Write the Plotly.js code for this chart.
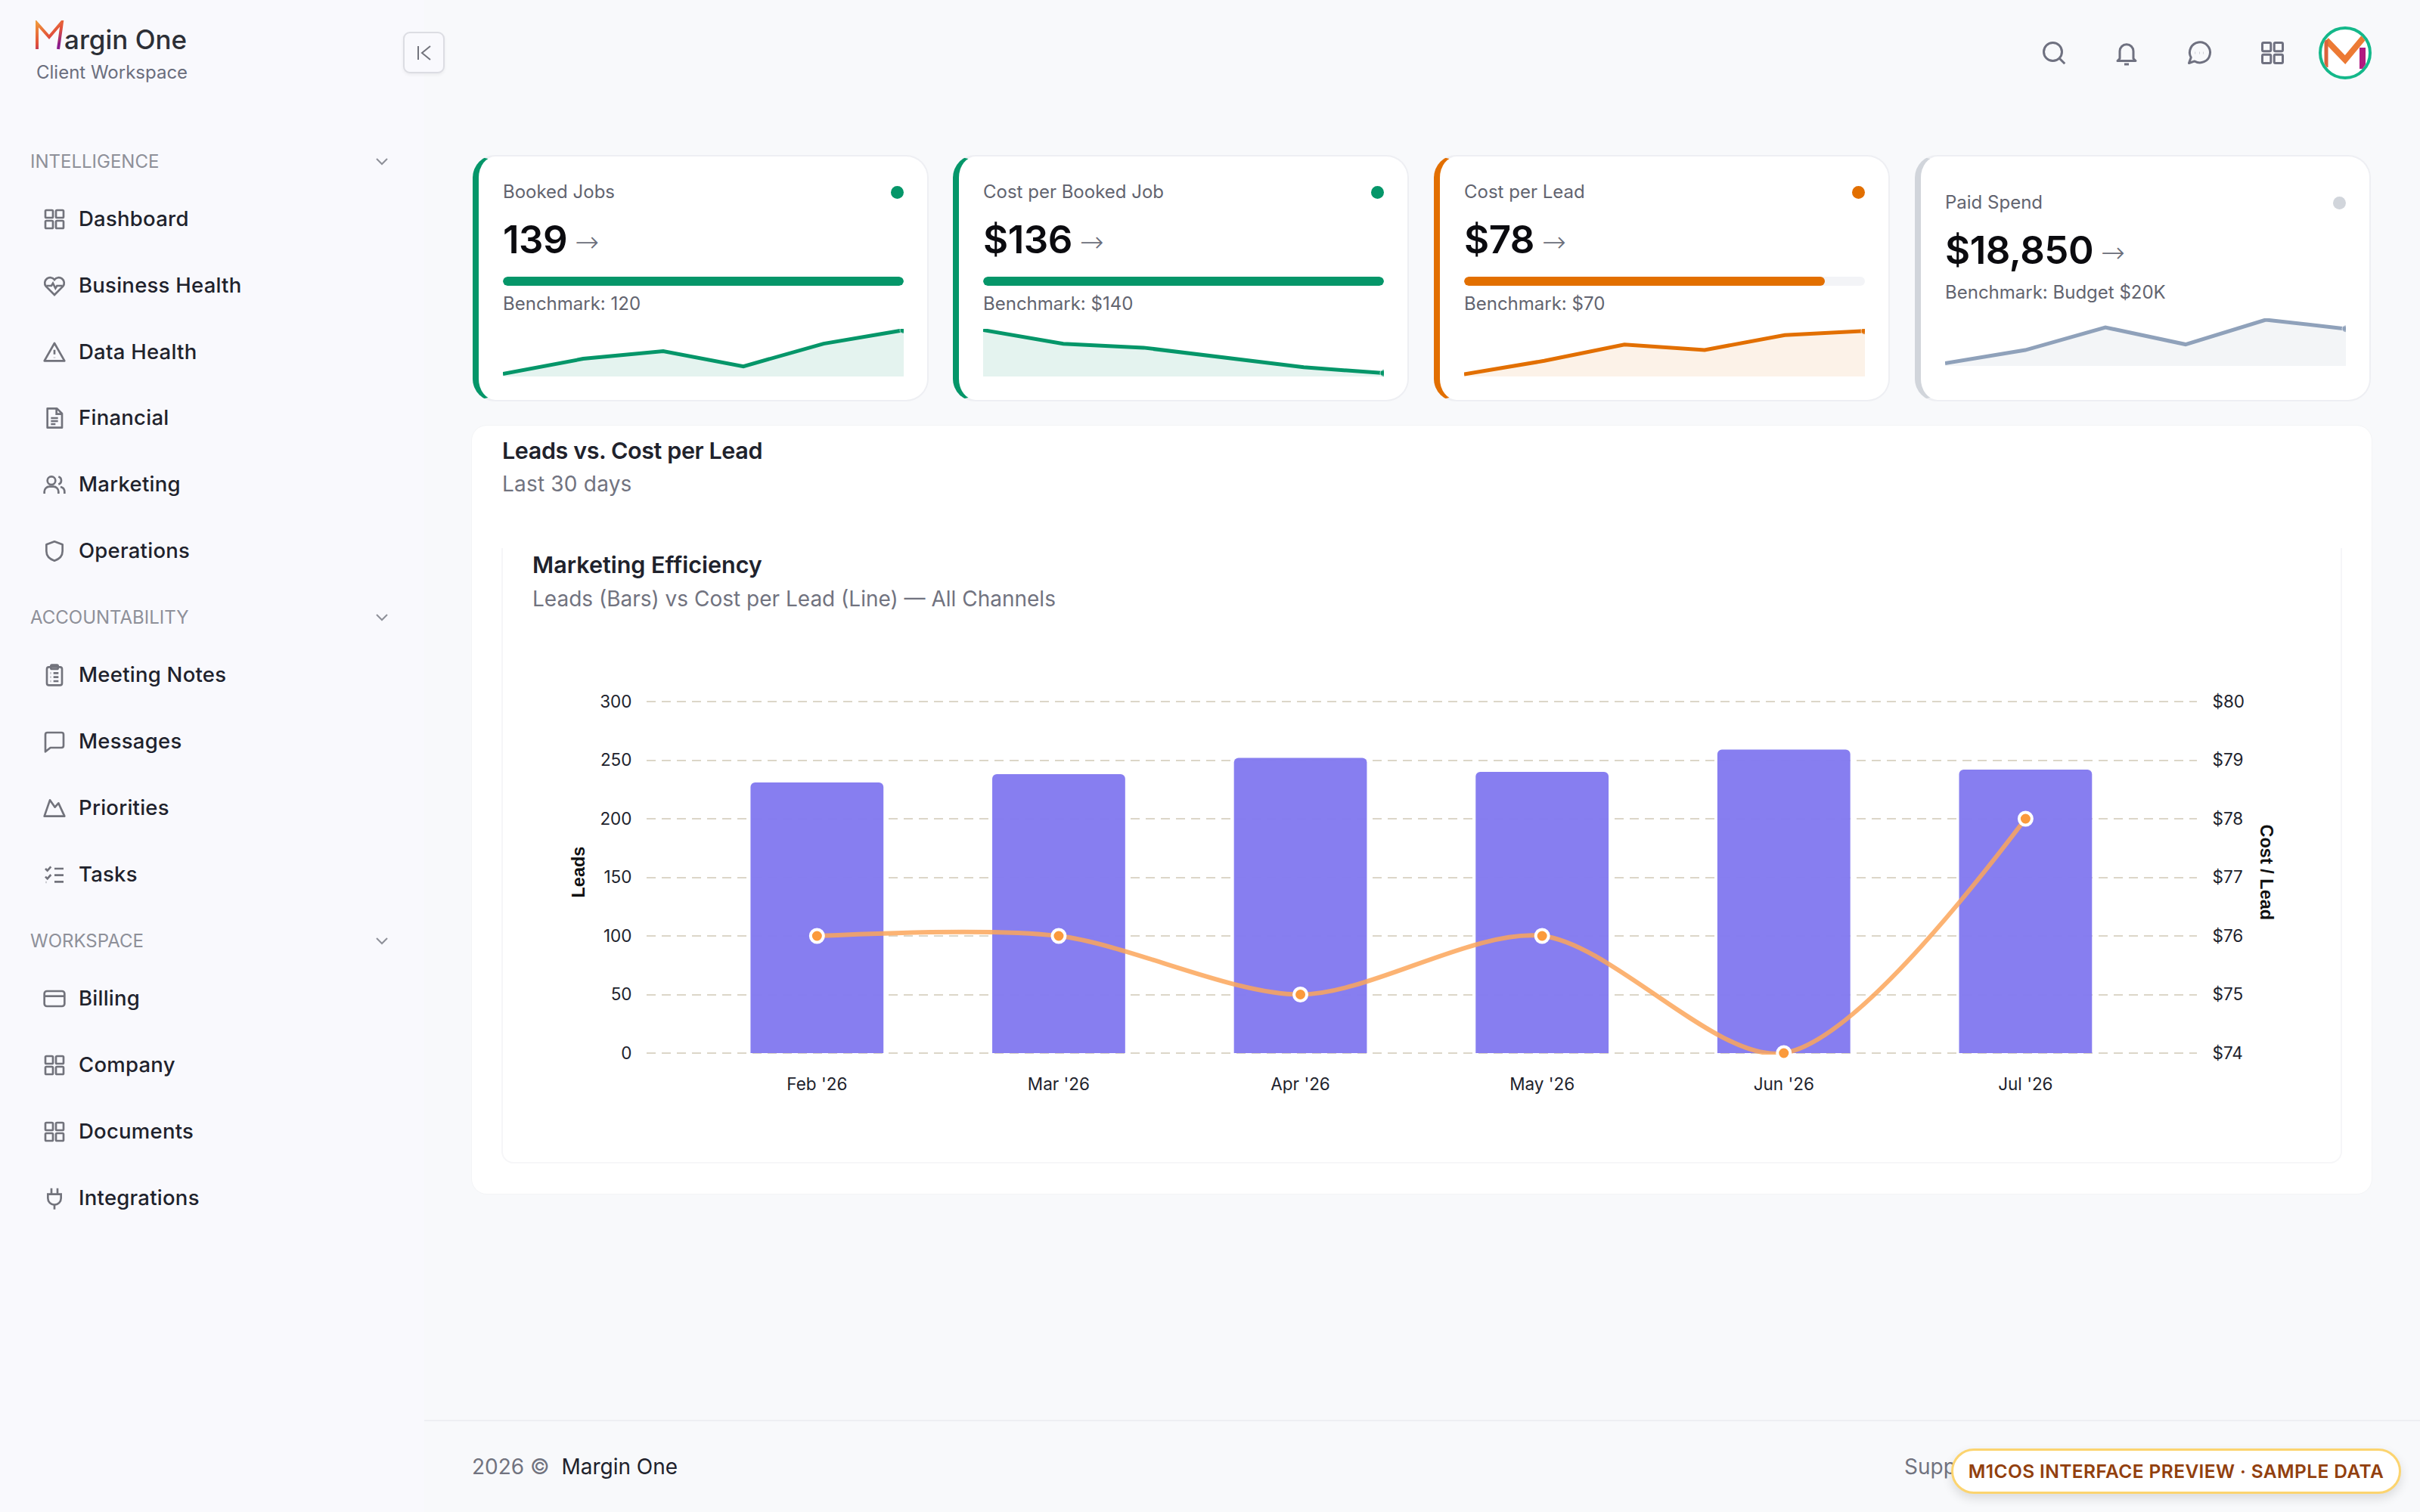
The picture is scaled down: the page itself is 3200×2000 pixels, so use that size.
<!DOCTYPE html>
<html><head><meta charset="utf-8">
<script src="https://cdn.plot.ly/plotly-3.0.1.min.js"></script>
<style>
*{box-sizing:border-box}
html,body{margin:0;padding:0;width:3200px;height:2000px;overflow:hidden;background:#f8f9fb;font-family:Inter,sans-serif;color:#20222c}
.abs{position:absolute}
#side{position:absolute;left:0;top:0;width:561px;height:2000px;background:#f9f9fd}
#nav{position:absolute;left:0;top:182px;width:561px}
.sec{margin-bottom:12.6px}
.sh{height:64px;position:relative;font-size:24px;color:#8e9099;line-height:64px;padding-left:40px}
.sh svg{position:absolute;left:494px;top:20px}
.it{height:87.8px;position:relative;font-size:27.5px;font-weight:500;line-height:87.8px;padding-left:104px;color:#20222c;letter-spacing:.25px}
.it svg{position:absolute;left:56px;top:28px}
.card{position:absolute;top:205px;height:326px;background:#fff;border-radius:30px;border:2px solid #eeeff3;border-left:8px solid;}
.lab{position:absolute;font-size:24px;color:#62646f;line-height:30px}
.dot{position:absolute;width:17px;height:17px;border-radius:50%}
.val{position:absolute;font-size:51px;font-weight:600;color:#0b0b0f;line-height:60px;letter-spacing:-.5px}
.arr{font-size:38px;font-weight:300;color:#6b6e7a;margin-left:10px;letter-spacing:0;font-family:"DejaVu Sans";position:relative;top:-2px}
.trk{position:absolute;height:12px;border-radius:6px;background:#f3f4f7;overflow:hidden}
.fil{height:12px;border-radius:6px}
.spark{position:absolute;height:63px}
</style></head><body>
<div id="side"></div>
<svg class="abs" style="left:46px;top:27px" width="40" height="40" viewBox="0 0 40 40"><defs><linearGradient id="lg" x1="0" y1="0" x2="0.6" y2="1"><stop offset="0" stop-color="#f0983a"/><stop offset=".6" stop-color="#e2503a"/><stop offset="1" stop-color="#8a1a8c"/></linearGradient></defs><path d="M3 38V4L19 22L36 2L31 38" fill="none" stroke="url(#lg)" stroke-width="4"/></svg>
<div class="abs" style="left:85px;top:26px;font-size:35px;font-weight:500;color:#2c2f36;line-height:52px">argin One</div>
<div class="abs" style="left:48px;top:80px;font-size:24px;color:#6b6e7d;line-height:32px">Client Workspace</div>
<div class="abs" style="left:533px;top:42px;width:55px;height:55px;border:2px solid #dcdde3;border-radius:9px;box-shadow:0 2px 4px rgba(0,0,0,.06);background:#f9f9fd"><svg class="abs" style="left:15px;top:15px" width="22" height="22" viewBox="0 0 22 22" fill="none" stroke="#72737c" stroke-width="2"><path d="M3 2V20M19 2L8 11L19 20"/></svg></div>
<div id="nav"></div>

<div id="icons"></div>
<div class="abs" style="left:3066px;top:35px;width:70px;height:70px;border:4px solid #14b88a;border-radius:50%;background:#fff;overflow:hidden"><svg width="62" height="62" viewBox="0 0 62 62"><path d="M6 14L31 40L56 10" fill="none" stroke="#ec7a34" stroke-width="8"/><path d="M6 14V50" stroke="#d9643c" stroke-width="5"/><path d="M54 24V52" stroke="#b01a80" stroke-width="8"/></svg></div>

<div id="cards"></div>

<div class="abs" style="left:624px;top:563px;width:2512px;height:1016px;background:#fff;border-radius:20px;box-shadow:0 0 0 1px #f3f4f6"></div>
<div class="abs" style="left:664px;top:576px;font-size:30.5px;font-weight:600;line-height:40px;color:#20222c;letter-spacing:-.4px">Leads vs. Cost per Lead</div>
<div class="abs" style="left:664px;top:622px;font-size:28px;color:#71737f;line-height:36px;letter-spacing:.2px">Last 30 days</div>
<div class="abs" style="left:663px;top:725px;width:2434px;height:814px;border:2px solid #f6f6f8;border-top:0;border-radius:0 0 16px 16px"></div>
<div class="abs" style="left:704px;top:727px;font-size:30.5px;font-weight:600;line-height:40px;color:#20222c">Marketing Efficiency</div>
<div class="abs" style="left:704px;top:774px;font-size:28px;color:#71737f;line-height:36px">Leads (Bars) vs Cost per Lead (Line) — All Channels</div>
<div id="main" class="abs" style="left:700px;top:880px;width:2330px;height:620px"></div>

<div class="abs" style="left:561px;top:1878px;width:2639px;height:2px;background:#eeeff3"></div>
<div class="abs" style="left:624px;top:1922px;font-size:28px;line-height:36px;color:#71737f">2026 ©&nbsp; <span style="color:#20222c">Margin One</span></div>
<div class="abs" style="left:2518px;top:1922px;font-size:28px;line-height:36px;color:#71737f">Support</div>
<div class="abs" style="left:2580px;top:1916px;width:595px;height:60px;background:#fff;border:3px solid #fcd46f;border-radius:30px;box-shadow:0 6px 14px rgba(0,0,0,.12);font-size:24.5px;font-weight:600;color:#92400e;line-height:54px;text-align:center;letter-spacing:.4px">M1COS INTERFACE PREVIEW · SAMPLE DATA</div>

<script>
// ---------- chart data ----------
const months = ["Feb '26","Mar '26","Apr '26","May '26","Jun '26","Jul '26"];
const leads = [231,238,252,240,259,242];
const costPerLead = [76,76,75,76,74,78];
const leadTicks = [0,50,100,150,200,250,300];
const costTicks = [74,75,76,77,78,79,80];
const costTickLabels = ["$74","$75","$76","$77","$78","$79","$80"];

const sparkBooked = [110,120,125,115,130,139];
const sparkCostJob = [158,151,149,144,139,136];
const sparkCostLead = [62,67,73,71,76.5,78];
const sparkSpend = [15200,16600,19000,17200,19800,18850];

const cardLabels = ["Booked Jobs","Cost per Booked Job","Cost per Lead","Paid Spend"];
const cardValues = ["139","$136","$78","$18,850"];
const cardBenchmarks = ["Benchmark: 120","Benchmark: $140","Benchmark: $70","Benchmark: Budget $20K"];
const cardProgress = [100,100,90,null];

const navIntelligence = ["Dashboard","Business Health","Data Health","Financial","Marketing","Operations"];
const navAccountability = ["Meeting Notes","Messages","Priorities","Tasks"];
const navWorkspace = ["Billing","Company","Documents","Integrations"];

// ---------- page chrome ----------
const P = {
 grid:'<rect x="3" y="3" width="7.5" height="7.5" rx="1"/><rect x="13.5" y="3" width="7.5" height="7.5" rx="1"/><rect x="3" y="13.5" width="7.5" height="7.5" rx="1"/><rect x="13.5" y="13.5" width="7.5" height="7.5" rx="1"/>',
 heart:'<path d="M12 21L3.5 12.5A5.3 5.3 0 0 1 12 6A5.3 5.3 0 0 1 20.5 12.5Z"/><path d="M4 12H9L10.5 9.5L13 14.5L14.5 12H20"/>',
 warn:'<path d="M12 3L22 20.5H2Z" stroke-linejoin="round"/><path d="M12 9.5V14M12 17V17.4"/>',
 file:'<path d="M5 2.5H14.5L19.5 7.5V21.5H5Z" stroke-linejoin="round"/><path d="M14 2.5V8H19.5M8.5 12H15.5M8.5 15H15.5M8.5 18H13"/>',
 users:'<circle cx="9" cy="8" r="4"/><path d="M2 21V19A5 5 0 0 1 7 14H11A5 5 0 0 1 16 19V21M16 4.2A4 4 0 0 1 16 11.8M22 21V19A5 5 0 0 0 18 14.2"/>',
 shield:'<path d="M12 2.5L20 5.5V12C20 17 16.5 20 12 21.5C7.5 20 4 17 4 12V5.5Z" stroke-linejoin="round"/>',
 clip:'<rect x="4.5" y="4" width="15" height="18" rx="2"/><rect x="8.5" y="2" width="7" height="4" rx="1"/><path d="M8 11H8.5M11 11H16M8 15H8.5M11 15H16M8 19H8.5M11 19H16" transform="translate(0 -1)"/>',
 msg:'<path d="M3 5A2 2 0 0 1 5 3H19A2 2 0 0 1 21 5V16A2 2 0 0 1 19 18H8L3 22Z" stroke-linejoin="round"/>',
 mount:'<path d="M2 20L7.5 4L12.5 11L16 7L22 20Z" stroke-linejoin="round"/>',
 tasks:'<path d="M3 6L5 8L8.5 4M3 14L5 16L8.5 12M12 6H21M12 12.5H21M3.5 19.5H4M12 19H21"/>',
 card:'<rect x="2" y="4.5" width="20" height="15" rx="2.5"/><path d="M2 9.5H22"/>',
 plug:'<path d="M9 2V8M15 2V8M5.5 8H18.5V12A6.5 6.5 0 0 1 5.5 12ZM12 18.5V23"/>',
 search:'<circle cx="11" cy="11" r="8"/><path d="M17 17L21.5 21.5"/>',
 bell:'<path d="M6 17V10.5A6 6 0 0 1 18 10.5V17L20 19H4ZM10 22H14" stroke-linejoin="round"/>',
 chat:'<path d="M3 21L4.8 16A9 9 0 1 1 8 19.3Z" stroke-linejoin="round"/><path d="M8.5 12H8.7M12 12H12.2M15.5 12H15.7"/>'
};
const icon=(n,s,c)=>`<svg width="${s}" height="${s}" viewBox="0 0 24 24" fill="none" stroke="${c}" stroke-width="2">${P[n]}</svg>`;
const sections=[["INTELLIGENCE",navIntelligence,["grid","heart","warn","file","users","shield"]],
 ["ACCOUNTABILITY",navAccountability,["clip","msg","mount","tasks"]],
 ["WORKSPACE",navWorkspace,["card","grid","grid","plug"]]];
document.getElementById('nav').innerHTML=sections.map(([h,items,ic])=>
 `<div class="sec"><div class="sh">${h}<svg width="22" height="22" viewBox="0 0 22 22" fill="none" stroke="#8e9099" stroke-width="2"><path d="M4 8L11 15L18 8"/></svg></div>`+
 items.map((t,i)=>`<div class="it">${icon(ic[i],32,'#72737c')}${t}</div>`).join('')+`</div>`).join('');
document.getElementById('icons').innerHTML=[["search",2698],["bell",2794],["chat",2890],["grid",2987]].map(([n,x])=>
 `<div class="abs" style="left:${x}px;top:52px">${icon(n,36,'#6f7180')}</div>`).join('');

const cardX=[625,1260,1896,2532], cardW=[603,603,603,603];
const cardCol=["#059669","#059669","#e26f00","#d1d5db"];
const lineCol=["#059669","#059669","#e26f00","#8fa1ba"];
const fillCol=["rgba(5,150,105,.11)","rgba(5,150,105,.11)","rgba(226,111,0,.09)","rgba(143,161,186,.11)"];
const sparks=[sparkBooked,sparkCostJob,sparkCostLead,sparkSpend];
const sparkRange=[[108.3,139.8],[134.3,158.6],[61.2,78.8],[14930,19960]];
document.getElementById('cards').innerHTML=cardLabels.map((l,i)=>{
 const x=cardX[i], ix=x+40, w=530, dy=i==3?14:0;
 return `<div class="card" style="left:${x}px;width:${cardW[i]}px;border-left-color:${cardCol[i]}"></div>
 <div class="lab" style="left:${ix}px;top:${239+dy}px">${l}</div>
 <div class="dot" style="left:${ix+w-17}px;top:${246+dy}px;background:${cardCol[i]}"></div>
 <div class="val" style="left:${ix}px;top:${287+dy}px">${cardValues[i]}<span class="arr">→</span></div>
 ${cardProgress[i]===null?'':`<div class="trk" style="left:${ix}px;top:366px;width:${w}px"><div class="fil" style="width:${cardProgress[i]}%;background:${cardCol[i]}"></div></div>`}
 <div class="lab" style="left:${ix}px;top:${i==3?372:387}px">${cardBenchmarks[i]}</div>
 <div class="spark" id="sp${i}" style="left:${ix}px;top:${i==3?421:435}px;width:${w}px"></div>`;
}).join('');

sparks.forEach((v,i)=>{
 Plotly.newPlot('sp'+i,[{x:[0,1,2,3,4,5],y:v,type:'scatter',mode:'lines+markers',fill:'tozeroy',fillcolor:fillCol[i],
   line:{color:lineCol[i],width:5},marker:{color:lineCol[i],size:[0,0,0,0,0,10]},cliponaxis:true}],
  {width:530,height:63,margin:{l:0,r:0,t:0,b:0},paper_bgcolor:'rgba(0,0,0,0)',plot_bgcolor:'rgba(0,0,0,0)',showlegend:false,
   xaxis:{visible:false,range:[0,5]},yaxis:{visible:false,range:sparkRange[i]}},{staticPlot:true});
});

// ---------- main chart ----------
const tick={family:'Inter, sans-serif',size:22.5,color:'#20222c'};
const axTitle={family:'"Liberation Sans", sans-serif',size:23.5,color:'#111',weight:700};
Plotly.newPlot('main',[
 {type:'bar',x:[0,1,2,3,4,5],y:leads,width:0.55,marker:{color:'#837af0',opacity:.97,cornerradius:6,line:{width:0}},name:'Leads'},
 {type:'scatter',mode:'lines+markers',x:[0,1,2,3,4,5],y:costPerLead,yaxis:'y2',name:'Cost / Lead',cliponaxis:false,
  line:{color:'rgba(251,166,90,.85)',width:6,shape:'spline',smoothing:0.85},
  marker:{color:'#fb9a3c',size:17,line:{color:'#fff',width:4}}}
],{
 width:2330,height:620,margin:{l:155,r:125,t:46,b:105},showlegend:false,
 paper_bgcolor:'rgba(0,0,0,0)',plot_bgcolor:'rgba(0,0,0,0)',font:{family:'Inter, sans-serif'},
 xaxis:{range:[-0.705,5.709],tickmode:'array',tickvals:[0,1,2,3,4,5],ticktext:months,tickfont:tick,showgrid:false,zeroline:false,showline:false,
   ticks:'outside',ticklen:19,tickcolor:'rgba(0,0,0,0)'},
 yaxis:{range:[-1.29,301.29],tickmode:'array',tickvals:leadTicks,tickfont:tick,showline:false,zeroline:false,gridcolor:'#dcd6c8',gridwidth:2,griddash:'12px,8px',
   ticks:'outside',ticklen:14,tickcolor:'rgba(0,0,0,0)'},
 yaxis2:{range:[73.974,80.026],overlaying:'y',side:'right',tickmode:'array',tickvals:costTicks,ticktext:costTickLabels,tickfont:tick,showgrid:false,zeroline:false,showline:false,
   ticks:'outside',ticklen:15,tickcolor:'rgba(0,0,0,0)'},
 annotations:[
  {text:'Leads',xref:'paper',yref:'paper',x:0,y:0.5,xanchor:'center',yanchor:'middle',xshift:-91,yshift:7,showarrow:false,textangle:-90,font:axTitle},
  {text:'Cost / Lead',xref:'paper',yref:'paper',x:1,y:0.5,xanchor:'center',yanchor:'middle',xshift:92,yshift:7,showarrow:false,textangle:90,font:axTitle}
 ]
},{staticPlot:true});
</script>
</body></html>
